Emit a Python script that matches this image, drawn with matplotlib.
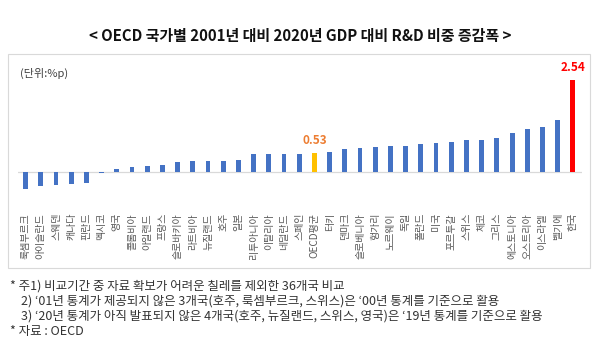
import matplotlib
matplotlib.use("Agg")
import matplotlib.pyplot as plt
from matplotlib.patches import Rectangle

plt.rcParams['font.family'] = ['Noto Sans CJK KR', 'DejaVu Sans']

# 국가별 2001->2020 GDP 대비 R&D 비중 증감폭 (%p)
countries = ['룩셈부르크', '아이슬란드', '스웨덴', '캐나다', '핀란드', '멕시코', '영국',
             '콜롬비아', '아일랜드', '프랑스', '슬로바키아', '라트비아', '뉴질랜드', '호주',
             '일본', '리투아니아', '이탈리아', '네덜란드', '스페인', 'OECD평균', '터키',
             '덴마크', '슬로베니아', '헝가리', '노르웨이', '독일', '폴란드', '미국',
             '포르투갈', '스위스', '체코', '그리스', '에스토니아', '오스트리아', '이스라엘',
             '벨기에', '한국']
values = [-0.47, -0.38, -0.35, -0.34, -0.29, -0.02, 0.08,
          0.13, 0.17, 0.19, 0.28, 0.30, 0.30, 0.31,
          0.33, 0.49, 0.49, 0.49, 0.50, 0.53, 0.56,
          0.63, 0.67, 0.69, 0.71, 0.72, 0.77, 0.81,
          0.83, 0.87, 0.87, 0.93, 1.08, 1.18, 1.24,
          1.43, 2.54]

title = '< OECD 국가별 2001년 대비 2020년 GDP 대비 R&D 비중 증감폭 >'
unit = '(단위:%p)'
notes = ['* 주1) 비교기간 중 자료 확보가 어려운 칠레를 제외한 36개국 비교',
         '    2) ‘01년 통계가 제공되지 않은 3개국(호주, 룩셈부르크, 스위스)은 ‘00년 통계를 기준으로 활용',
         '    3) ‘20년 통계가 아직 발표되지 않은 4개국(호주, 뉴질랜드, 스위스, 영국)은 ‘19년 통계를 기준으로 활용',
         '* 자료 : OECD']

colors = []
for c in countries:
    if c == '한국':
        colors.append('#FF0000')
    elif c == 'OECD평균':
        colors.append('#FFC000')
    else:
        colors.append('#4472C4')

W, H = 600, 362
fig = plt.figure(figsize=(6, 3.62), dpi=100)

# 차트 테두리
fig.patches.append(Rectangle((8 / W, 1 - 268 / H), 582 / W, 214 / H,
                             transform=fig.transFigure, fill=False,
                             edgecolor='#D9D9D9', linewidth=0.8))

ax = fig.add_axes([18 / W, 1 - 204.7 / H, 564 / W, 130.7 / H])
x = list(range(len(countries)))
ax.bar(x, values, width=0.32, color=colors, zorder=3)
ax.axhline(0, color='#D9D9D9', linewidth=0.9, zorder=2)
ax.set_xlim(-0.5, 36.6)
ax.set_ylim(-0.9, 2.7)
for s in ax.spines.values():
    s.set_visible(False)
ax.set_yticks([])
ax.set_xticks(x)
ax.set_xticklabels(countries, rotation=90, fontsize=7.2, color='#595959')
ax.tick_params(axis='x', length=0, pad=6)

# 값 라벨
for i, c in enumerate(countries):
    if c == 'OECD평균':
        ax.annotate(f'{values[i]:.2f}', (i, values[i]), xytext=(0, 4),
                    textcoords='offset points', ha='center', va='bottom',
                    fontsize=8.5, fontweight='bold', color='#ED7D31')
    elif c == '한국':
        ax.annotate(f'{values[i]:.2f}', (i, values[i]), xytext=(0, 4),
                    textcoords='offset points', ha='center', va='bottom',
                    fontsize=8.5, fontweight='bold', color='#FF0000')

fig.text(0.5, 1 - 36 / H, title, ha='center', va='center', fontsize=10.8,
         fontweight='bold', color='#111111')
fig.text(20 / W, 1 - 73 / H, unit, ha='left', va='center', fontsize=8,
         color='#404040')

ys = [286, 301, 316, 331]
for t, yy in zip(notes, ys):
    fig.text(10 / W, 1 - yy / H, t, ha='left', va='center', fontsize=9.0,
             color='#333333')

fig.savefig('out.png', dpi=100)
